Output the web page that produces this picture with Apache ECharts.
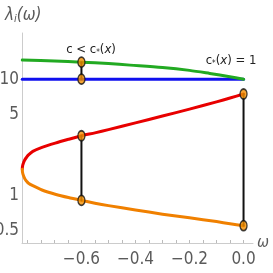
<!DOCTYPE html>
<html><head><meta charset="utf-8">
<script src="https://cdn.jsdelivr.net/npm/echarts@6/dist/echarts.min.js"></script>
<style>html,body{margin:0;padding:0;background:#fff}#c{width:273px;height:273px}</style>
</head><body><div id="c"></div>
<script>
// ---- data ----
const blueOmega = [-0.819, 0];
const blueValues = [10, 10];
const greenOmega = [-0.819, -0.7, -0.6, -0.5, -0.42, -0.3, -0.2, -0.125, -0.051, 0];
const greenValues = [14.6, 14.3, 14.0, 13.6, 13.2, 12.6, 11.9, 11.2, 10.5, 10.0];
const redOmega = [-0.819, -0.8185, -0.818, -0.817, -0.815, -0.812, -0.808, -0.803, -0.796, -0.78, -0.746, -0.697, -0.648, -0.60, -0.55, -0.50, -0.40, -0.30, -0.20, -0.10, -0.05, 0];
const redValues = [1.69, 1.76, 1.79, 1.84, 1.90, 1.98, 2.06, 2.14, 2.24, 2.40, 2.60, 2.83, 3.05, 3.27, 3.46, 3.69, 4.22, 4.83, 5.53, 6.38, 6.89, 7.46];
const orangeOmega = [-0.819, -0.8185, -0.818, -0.817, -0.815, -0.812, -0.808, -0.803, -0.796, -0.78, -0.746, -0.697, -0.648, -0.60, -0.55, -0.50, -0.40, -0.30, -0.20, -0.10, -0.05, 0];
const orangeValues = [1.69, 1.62, 1.59, 1.55, 1.50, 1.44, 1.38, 1.33, 1.28, 1.22, 1.12, 1.03, 0.964, 0.912, 0.863, 0.822, 0.755, 0.695, 0.646, 0.600, 0.575, 0.553];
const markerOmega = [-0.6, -0.6, -0.6, -0.6, 0, 0];
const markerValues = [14.0, 10, 3.27, 0.912, 7.46, 0.553];
const connectors = [
  [[-0.6, 14.0], [-0.6, 10]],
  [[-0.6, 3.27], [-0.6, 0.912]],
  [[0, 7.46], [0, 0.553]]
];
const xTickLabels = [-0.6, -0.4, -0.2, 0];
const xMinorTicks = [-0.8, -0.75, -0.7, -0.65, -0.6, -0.55, -0.5, -0.45, -0.4, -0.35, -0.3, -0.25, -0.2, -0.15, -0.1, -0.05, 0];
const yTickValues = [0.5, 1, 5, 10];
const yTickLabels = ['0.5', '1', '5', '10'];

const L = v => Math.log10(v);
const pairs = (xs, ys) => xs.map((x, i) => [x, L(ys[i])]);
const FONT = "'Liberation Sans Narrow', 'DejaVu Sans Condensed', 'Roboto', sans-serif";
const GRAY = '#5a5a5a';

const chart = echarts.init(document.getElementById('c'));
const lineSeries = (data, color, w, smooth) => ({
  type: 'line', data, showSymbol: false, symbol: 'none', silent: true, smooth: smooth || false,
  lineStyle: {color, width: w, cap: 'round', join: 'round'}, animation: false
});
const series = [
  lineSeries(pairs(blueOmega, blueValues), '#1010ee', 3),
  lineSeries(pairs(greenOmega, greenValues), '#22aa22', 3, 0.3),
  lineSeries(pairs(redOmega, redValues), '#e80000', 3, 0.2),
  lineSeries(pairs(orangeOmega, orangeValues), '#f08000', 3, 0.2)
];
connectors.forEach(seg => series.push(lineSeries(seg.map(p => [p[0], L(p[1])]), '#111', 2)));
series.push({
  type: 'scatter', data: pairs(markerOmega, markerValues), symbol: 'circle', symbolSize: [7, 10],
  itemStyle: {color: '#f59000', borderColor: '#111', borderWidth: 1.5}, animation: false, z: 5
});

const richAnn = {
  c: {fontSize: 13, fontFamily: FONT, fill: '#222'},
  i: {fontSize: 13, fontFamily: FONT, fill: '#222', fontStyle: 'italic'},
  s: {fontSize: 8, fontFamily: FONT, fill: '#222', padding: [5, 0, 0, 0]}
};

chart.setOption({
  animation: false,
  grid: {left: 22, right: 20, top: 33, bottom: 30, containLabel: false, outerBoundsMode: 'none'},
  xAxis: {
    type: 'value', min: -0.82, max: 0.035,
    name: 'ω', nameLocation: 'end', nameGap: 4,
    nameTextStyle: {color: GRAY, fontSize: 16, fontStyle: 'italic', fontFamily: FONT, verticalAlign: 'middle'},
    axisLine: {show: true, onZero: false, lineStyle: {color: '#cccccc', width: 1}},
    axisTick: {show: true, inside: true, length: 3, customValues: xMinorTicks, lineStyle: {color: '#bbbbbb'}},
    axisLabel: {customValues: xTickLabels, color: GRAY, fontSize: 17, fontFamily: FONT, margin: 8,
      formatter: v => (v < 0 ? '\u2212' + Math.abs(v).toFixed(1) : v.toFixed(1))},
    splitLine: {show: false}
  },
  yAxis: {
    type: 'value', min: L(0.393), max: L(24.9),
    axisLine: {show: true, onZero: false, lineStyle: {color: '#cccccc', width: 1}},
    axisTick: {show: false},
    axisLabel: {customValues: yTickValues.map(L), color: GRAY, fontSize: 17, fontFamily: FONT, margin: 3,
      formatter: v => { const i = yTickValues.findIndex(t => Math.abs(L(t) - v) < 1e-6); return i >= 0 ? yTickLabels[i] : ''; }},
    splitLine: {show: false}
  },
  graphic: [
    {type: 'text', left: 5, top: 7, style: {
      text: '{a|λ}{s|i}{a|(ω)}',
      rich: {a: {fontSize: 17, fontFamily: FONT, fill: GRAY, fontStyle: 'italic'}, s: {fontSize: 11, fontFamily: FONT, fill: GRAY, fontStyle: 'italic', padding: [8, 0, 0, 0]}}
    }},
    {type: 'text', x: 91, y: 50, style: {
      text: '{c|c < c}{s|*}{c|(}{i|x}{c|)}', align: 'center', verticalAlign: 'middle', rich: richAnn
    }},
    {type: 'text', x: 231, y: 61, style: {
      text: '{c|c}{s|*}{c|(}{i|x}{c|) = 1}', align: 'center', verticalAlign: 'middle', rich: richAnn
    }}
  ],
  series
});
</script></body></html>
